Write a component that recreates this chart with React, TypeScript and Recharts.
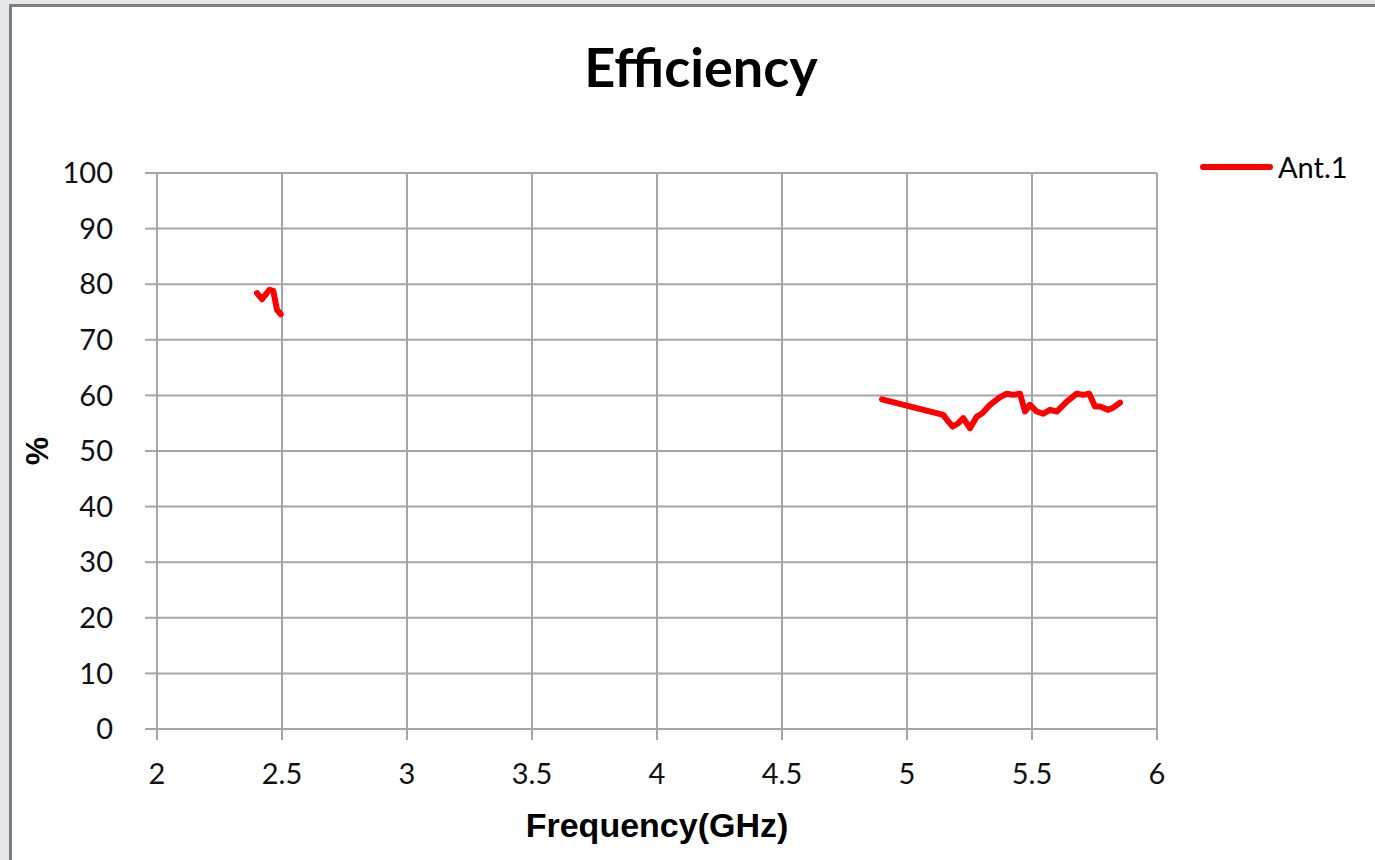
import React from 'react'
import { LineChart, Line, XAxis, YAxis, CartesianGrid, Label } from 'recharts'

// 2.4 GHz band
const band1Freq = [2.4, 2.42, 2.45, 2.465, 2.48, 2.495]
const band1Eff = [78.4, 77.3, 79.0, 78.8, 75.4, 74.6]

// 5 GHz band
const band2Freq = [
  4.9, 5.145, 5.165, 5.183, 5.205, 5.225, 5.252, 5.279, 5.299, 5.332,
  5.372, 5.399, 5.425, 5.452, 5.472, 5.492, 5.519, 5.545, 5.572, 5.599,
  5.639, 5.679, 5.705, 5.729, 5.752, 5.772, 5.805, 5.825, 5.852,
]
const band2Eff = [
  59.3, 56.5, 55.3, 54.4, 55.0, 55.9, 54.1, 56.2, 56.7, 58.3,
  59.7, 60.3, 60.1, 60.3, 57.1, 58.3, 57.1, 56.7, 57.4, 57.1,
  58.9, 60.3, 60.1, 60.3, 58.0, 58.0, 57.4, 57.8, 58.7,
]

const xTicks = [2, 2.5, 3, 3.5, 4, 4.5, 5, 5.5, 6]
const yTicks = [0, 10, 20, 30, 40, 50, 60, 70, 80, 90, 100]
const seriesName = 'Ant.1'

const data = [
  ...band1Freq.map((f, i) => ({ freq: f, eff: band1Eff[i] as number | null })),
  { freq: 3.7, eff: null }, // gap between bands
  ...band2Freq.map((f, i) => ({ freq: f, eff: band2Eff[i] as number | null })),
]

const GRID = '#a6a6a6'
const RED = '#ff0000'

export default function App() {
  return (
    <div style={{ position: 'absolute', left: 0, top: 0, width: 1375, height: 860, background: '#e4e8eb', overflow: 'hidden' }}>
      <div style={{
        position: 'absolute', left: 9, top: 4, width: 1400, height: 900,
        background: '#fff', borderLeft: '3px solid #7f7f7f', borderTop: '3px solid #7f7f7f',
      }} />

      <div style={{
        position: 'absolute', left: 451, top: 40, width: 500, textAlign: 'center',
        fontFamily: 'Lato', fontWeight: 700, fontSize: 54, lineHeight: '54px', color: '#000',
      }}>
        Efficiency
      </div>

      {/* legend */}
      <div style={{ position: 'absolute', left: 1200, top: 164, width: 73, height: 6, borderRadius: 3, background: RED }} />
      <div style={{
        position: 'absolute', left: 1278, top: 150, lineHeight: '34px',
        fontFamily: 'Lato', fontSize: 29, color: '#000',
      }}>
        {seriesName}
      </div>

      <div style={{ position: 'absolute', left: 0, top: 0 }}>
        <LineChart width={1375} height={860} data={data} margin={{ top: 173, right: 218, bottom: 0, left: 0 }}>
          <CartesianGrid stroke={GRID} strokeWidth={2} />
          <XAxis
            type="number"
            dataKey="freq"
            domain={[2, 6]}
            ticks={xTicks}
            height={131}
            tickSize={11}
            tickMargin={23}
            axisLine={{ stroke: GRID, strokeWidth: 2 }}
            tickLine={{ stroke: GRID, strokeWidth: 2 }}
            tick={{ fontFamily: 'Lato', fontSize: 29, fill: '#111' }}
          >
            <Label
              value="Frequency(GHz)"
              position="insideBottom"
              offset={23}
              style={{ fontFamily: 'Liberation Sans', fontWeight: 700, fontSize: 34, fill: '#000' }}
            />
          </XAxis>
          <YAxis
            type="number"
            domain={[0, 100]}
            ticks={yTicks}
            width={157}
            tickSize={12}
            tickMargin={32}
            axisLine={{ stroke: GRID, strokeWidth: 2 }}
            tickLine={{ stroke: GRID, strokeWidth: 2 }}
            tick={{ fontFamily: 'Lato', fontSize: 29, fill: '#111' }}
          >
            <Label
              content={({ viewBox }: any) => {
                const cy = viewBox.y + viewBox.height / 2
                return (
                  <text
                    x={37}
                    y={cy}
                    transform={`rotate(-90, 37, ${cy})`}
                    textAnchor="middle"
                    dominantBaseline="central"
                    style={{ fontFamily: 'Liberation Sans', fontWeight: 700, fontSize: 32, fill: '#000' }}
                  >
                    %
                  </text>
                )
              }}
            />
          </YAxis>
          <Line
            type="linear"
            dataKey="eff"
            name={seriesName}
            stroke={RED}
            strokeWidth={6}
            strokeLinejoin="round"
            strokeLinecap="round"
            dot={false}
            connectNulls={false}
            isAnimationActive={false}
          />
        </LineChart>
      </div>
    </div>
  )
}
